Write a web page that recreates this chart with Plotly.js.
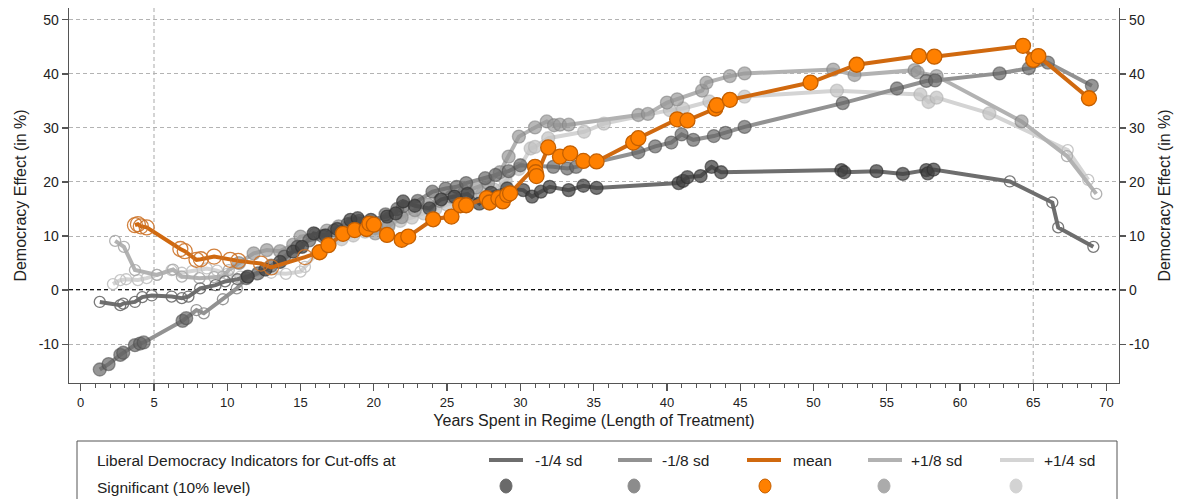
<!DOCTYPE html>
<html>
<head>
<meta charset="utf-8">
<script src="https://cdn.plot.ly/plotly-3.0.1.min.js"></script>
<style>html,body{margin:0;padding:0;background:#fff;}#chart{width:1180px;height:499px;}</style>
</head>
<body>
<div id="chart"></div>
<script>
// ---------- data ----------
const seriesNames = ['-1/4 sd', '-1/8 sd', 'mean', '+1/8 sd', '+1/4 sd'];

const m4X = [1.3,2.7,2.9,3.7,4.2,4.85,6.2,6.9,7.35,8.15,9.2,9.85,10.7,11.4,12.6,13.6,14.5,15.1,15.9,16.7,17.5,18.4,18.9,19.8,20.9,21.5,22.0,22.8,23.8,24.6,25.5,26.4,27.2,28.0,29.1,30.2,30.8,31.4,32.0,33.3,34.3,35.2,40.8,41.1,41.4,42.3,43.05,43.7,51.9,52.1,54.3,56.1,57.7,57.8,58.2,63.4,66.3,66.7,69.1];
const m4Y = [-2.2,-2.8,-2.5,-2.2,-1.3,-1.0,-1.2,-1.5,-1.2,0.3,0.9,1.6,2.0,2.5,3.8,5.2,7.1,8.0,10.5,10.1,11.3,13.0,13.3,13.0,13.6,14.2,16.4,15.6,15.1,16.8,17.3,17.8,16.0,18.0,18.8,18.5,17.3,18.2,19.1,18.5,19.3,18.9,19.8,20.2,20.9,21.1,22.8,21.8,22.2,21.8,22.0,21.5,22.2,21.6,22.3,20.1,16.2,11.6,8.0];
const m4Sig = [0,0,0,0,0,0,0,0,0,0,0,0,0,1,1,1,1,1,1,1,1,1,1,1,1,1,1,1,1,1,1,1,1,1,1,1,1,1,1,1,1,1,1,1,1,1,1,1,1,1,1,1,1,1,1,0,0,0,0];

const m8X = [1.3,1.9,2.7,2.9,3.7,4.05,4.3,6.95,7.2,7.9,8.4,9.7,10.65,11.3,12.1,13.0,13.9,14.8,15.6,16.5,17.3,18.2,19.0,19.8,20.8,21.6,22.0,23.0,24.0,24.9,25.65,26.3,27.6,28.3,29.2,30.0,32.25,33.2,33.8,38.05,39.2,40.3,41.0,41.8,43.2,44.0,45.3,52.0,55.7,57.7,58.3,62.7,64.7,66.0,69.0];
const m8Y = [-14.7,-13.7,-12.0,-11.6,-10.2,-9.9,-9.7,-5.7,-5.2,-3.7,-4.3,-1.7,0.3,2.2,3.1,4.5,6.2,8.0,9.2,10.0,11.0,12.2,12.8,11.8,14.0,15.0,15.5,16.5,18.2,18.8,19.1,19.8,20.7,21.3,22.0,23.1,22.8,22.5,22.8,25.5,26.6,27.3,28.8,27.8,28.5,29.1,30.2,34.6,37.3,38.7,38.8,40.1,41.05,42.1,37.8];
const m8Sig = [1,1,1,1,1,1,1,1,1,0,0,0,0,1,1,1,1,1,1,1,1,1,1,1,1,1,1,1,1,1,1,1,1,1,1,1,1,1,1,1,1,1,1,1,1,1,1,1,1,1,1,1,1,1,1];

const meanX = [3.7,3.9,4.1,4.5,6.8,7.1,7.9,8.2,9.1,10.2,10.75,12.3,13.0,15.3,16.3,16.9,17.9,18.7,19.5,19.7,20.0,20.9,21.9,22.35,24.05,25.3,25.9,26.3,27.7,27.9,28.5,28.8,29.1,29.3,31.0,31.05,31.1,31.9,32.7,33.4,34.3,35.2,37.7,38.05,40.7,41.4,43.3,43.4,44.3,49.8,52.95,57.2,58.25,64.3,65.0,65.35,68.8];
const meanY = [12.0,12.2,11.8,11.6,7.6,7.2,5.6,5.7,6.2,5.6,5.4,4.9,4.2,6.1,7.0,8.3,10.4,11.1,11.3,12.3,12.1,10.2,9.3,9.9,13.1,13.6,15.7,15.7,17.0,16.2,17.0,16.4,17.6,17.9,22.8,21.8,21.1,26.4,24.7,25.3,23.9,23.8,27.3,28.1,31.6,31.4,33.6,34.2,35.2,38.4,41.7,43.3,43.2,45.2,42.6,43.3,35.5];
const meanSig = [0,0,0,0,0,0,0,0,0,0,0,0,0,0,1,1,1,1,1,1,1,1,1,1,1,1,1,1,1,1,1,1,1,1,1,1,1,1,1,1,1,1,1,1,1,1,1,1,1,1,1,1,1,1,1,1,1];

const p8X = [2.35,2.95,3.7,5.2,6.3,6.9,8.1,9.1,9.7,10.1,10.8,11.8,12.7,13.6,14.5,15.0,16.0,16.8,17.6,18.5,19.3,20.1,21.0,21.9,22.8,23.7,24.5,25.3,26.2,27.0,27.8,28.6,29.2,29.9,31.0,31.8,32.3,32.7,33.3,38.05,38.7,40.0,40.7,42.4,42.7,44.3,45.3,51.35,52.8,56.9,57.1,58.4,64.2,67.3,69.3];
const p8Y = [9.1,8.0,3.7,2.8,3.8,2.5,2.2,2.4,2.5,3.7,5.0,6.8,7.4,7.2,8.4,9.9,10.3,11.0,11.8,12.4,11.5,10.5,11.8,13.5,14.8,15.8,16.5,17.3,18.2,19.0,19.8,21.8,24.7,28.4,30.1,31.2,30.5,30.6,30.6,32.4,32.6,34.7,35.3,36.9,38.4,39.6,40.1,40.8,39.8,40.7,40.3,39.6,31.2,24.8,17.8];
const p8Sig = [0,0,0,0,0,0,0,0,0,0,1,1,1,1,1,1,1,1,1,1,1,1,1,1,1,1,1,1,1,1,1,1,1,1,1,1,1,1,1,1,1,1,1,1,1,1,1,1,1,1,1,1,1,0,0];

const p4X = [2.2,2.7,3.1,3.9,4.5,5.2,6.2,6.9,7.6,8.6,9.3,10.0,10.9,12.0,13.0,14.0,15.0,15.3,16.2,17.0,17.8,18.6,19.4,20.2,21.0,21.8,22.6,23.4,24.2,25.0,25.8,26.6,27.4,28.2,29.0,29.9,30.7,31.0,31.9,34.35,35.7,40.2,41.1,42.9,45.3,51.6,57.3,57.85,58.4,62.0,67.35,68.75];
const p4Y = [1.1,1.85,2.0,1.85,2.2,2.8,3.7,3.2,3.5,4.0,3.6,3.0,2.5,2.9,3.2,3.0,3.4,4.3,7.0,8.6,9.4,10.1,10.8,11.5,12.2,12.8,13.4,14.2,15.0,15.8,16.4,17.1,17.8,18.6,20.2,22.4,26.2,26.5,28.1,29.3,30.8,33.3,33.6,34.9,35.8,36.9,36.2,34.8,35.6,32.7,25.9,20.4];
const p4Sig = [0,0,0,0,0,0,0,0,0,0,0,0,0,0,0,0,0,0,1,1,1,1,1,1,1,1,1,1,1,1,1,1,1,1,1,1,1,1,1,1,1,1,1,1,1,1,1,1,1,1,0,0];

const yTicks = [-10, 0, 10, 20, 30, 40, 50];
const yTickLabels = ['-10', '0', '10', '20', '30', '40', '50'];
const xTicks = [0,5,10,15,20,25,30,35,40,45,50,55,60,65,70];
const refLinesX = [5, 65];

// ---------- styles ----------
const styles = {
  '-1/4 sd': {line:'#6e6e6e', fill:'rgba(65,65,65,0.72)', edge:'rgba(45,45,45,0.6)', open:'rgba(105,105,105,0.9)', size:13, openSize:11, legendDot:'#6a6a6a'},
  '-1/8 sd': {line:'#929292', fill:'rgba(100,100,100,0.68)', edge:'rgba(75,75,75,0.55)', open:'rgba(140,140,140,0.9)', size:13, openSize:11, legendDot:'#8c8c8c'},
  'mean':    {line:'#d0690f', fill:'#ff8000', edge:'#c45f00', open:'rgba(205,115,40,0.9)', size:15, openSize:15, legendDot:'#ff8000'},
  '+1/8 sd': {line:'#b2b2b2', fill:'rgba(150,150,150,0.68)', edge:'rgba(125,125,125,0.55)', open:'rgba(170,170,170,0.9)', size:13, openSize:11, legendDot:'#ababab'},
  '+1/4 sd': {line:'#d4d4d4', fill:'rgba(195,195,195,0.72)', edge:'rgba(170,170,170,0.5)', open:'rgba(195,195,195,0.95)', size:13, openSize:11, legendDot:'#d3d3d3'}
};

const seriesData = {
  '-1/4 sd': [m4X, m4Y, m4Sig],
  '-1/8 sd': [m8X, m8Y, m8Sig],
  'mean': [meanX, meanY, meanSig],
  '+1/8 sd': [p8X, p8Y, p8Sig],
  '+1/4 sd': [p4X, p4Y, p4Sig]
};

const drawOrder = ['+1/4 sd', '+1/8 sd', '-1/8 sd', '-1/4 sd', 'mean'];

const traces = drawOrder.map(name => {
  const [xs, ys, sig] = seriesData[name];
  const st = styles[name];
  return {
    type: 'scatter', mode: 'lines+markers', name: name,
    x: xs, y: ys,
    line: {color: st.line, width: 4},
    marker: {
      symbol: sig.map(s => s ? 'circle' : 'circle-open'),
      color: sig.map(s => s ? st.fill : st.open),
      size: sig.map(s => s ? st.size : st.openSize),
      opacity: 1,
      line: {color: st.edge, width: 1.3}
    },
    showlegend: false, hoverinfo: 'x+y'
  };
});
// invisible trace to materialise right axis
traces.push({type:'scatter', mode:'markers', x: meanX, y: meanY, yaxis:'y2', marker:{opacity:0}, hoverinfo:'skip', showlegend:false});

// ---------- layout helpers ----------
const L = 69, R = 1119, T = 8, B = 383;
const px = v => (v - L) / (R - L);
const py = v => (B - v) / (B - T);
const FONT = 'Liberation Sans, Arial, Helvetica, sans-serif';

const shapes = [];
refLinesX.forEach(v => shapes.push({type:'line', xref:'x', yref:'paper', x0:v, x1:v, y0:0, y1:1, line:{color:'#bdbdbd', width:1.3, dash:'4px,3px'}, layer:'below'}));
shapes.push({type:'line', xref:'paper', yref:'y', x0:0, x1:1, y0:0, y1:0, line:{color:'#111', width:2, dash:'4px,3px'}, layer:'below'});
// legend box
shapes.push({type:'rect', xref:'paper', yref:'paper', x0:px(77), x1:px(1117), y0:py(441), y1:py(520), line:{color:'#555', width:1}, fillcolor:'rgba(0,0,0,0)'});

const annotations = [
  {text:'Liberal Democracy Indicators for Cut-offs at', x:px(95), y:py(460), xref:'paper', yref:'paper', xanchor:'left', yanchor:'middle', showarrow:false, font:{family:FONT, size:15.5, color:'#222'}},
  {text:'Significant (10% level)', x:px(95), y:py(487), xref:'paper', yref:'paper', xanchor:'left', yanchor:'middle', showarrow:false, font:{family:FONT, size:15.5, color:'#222'}}
];
const legLineX = [489, 618, 747, 868, 1000];
const legTextX = [533, 660, 791, 909, 1042];
const legDotX = [506, 634, 765, 884, 1016];
seriesNames.forEach((name, i) => {
  const st = styles[name];
  shapes.push({type:'line', xref:'paper', yref:'paper', x0:px(legLineX[i]), x1:px(legLineX[i]+34), y0:py(460), y1:py(460), line:{color:st.line, width:4}});
  shapes.push({type:'circle', xref:'paper', yref:'paper', xsizemode:'pixel', ysizemode:'pixel', xanchor:px(legDotX[i]), yanchor:py(486), x0:-6, x1:6, y0:-7, y1:7, fillcolor:st.legendDot, line:{color: name==='mean' ? '#c45f00' : st.legendDot, width:1}});
  annotations.push({text:name, x:px(legTextX[i]), y:py(460), xref:'paper', yref:'paper', xanchor:'left', yanchor:'middle', showarrow:false, font:{family:FONT, size:15.5, color:'#222'}});
});

const yRange = [-17.2, 52.2];
const axisCommon = {showline:true, linecolor:'#555', linewidth:1.3, ticks:'outside', ticklen:6, tickcolor:'#555', tickwidth:1.2, zeroline:false, tickfont:{family:FONT, size:14, color:'#222'}};

const layout = {
  width:1180, height:499,
  margin:{l:L, r:1180-R, t:T, b:499-B, pad:0},
  paper_bgcolor:'#fff', plot_bgcolor:'#fff',
  font:{family:FONT, color:'#222'},
  showlegend:false,
  xaxis: Object.assign({}, axisCommon, {
    range:[-0.8, 70.85], tickvals:xTicks, ticklen:7, showgrid:false,
    tickfont:{family:FONT, size:13, color:'#222'},
    minor:{dtick:1, tick0:0, ticks:'outside', ticklen:4, tickcolor:'#555', tickwidth:1, showgrid:false},
    title:{text:'Years Spent in Regime (Length of Treatment)', font:{family:FONT, size:16, color:'#222'}, standoff:6}
  }),
  yaxis: Object.assign({}, axisCommon, {
    range:yRange, tickvals:yTicks, ticktext:yTickLabels, showgrid:true, gridcolor:'#b3b3b3', gridwidth:1, griddash:'4px,3px',
    title:{text:'Democracy Effect (in %)', font:{family:FONT, size:16, color:'#222'}, standoff:8}
  }),
  yaxis2: Object.assign({}, axisCommon, {
    range:yRange, tickvals:yTicks, ticktext:yTickLabels, overlaying:'y', side:'right', showgrid:false,
    title:{text:'Democracy Effect (in %)', font:{family:FONT, size:16, color:'#222'}, standoff:10}
  }),
  shapes: shapes,
  annotations: annotations
};

Plotly.newPlot('chart', traces, layout, {displayModeBar:false, staticPlot:true});
</script>
</body>
</html>
